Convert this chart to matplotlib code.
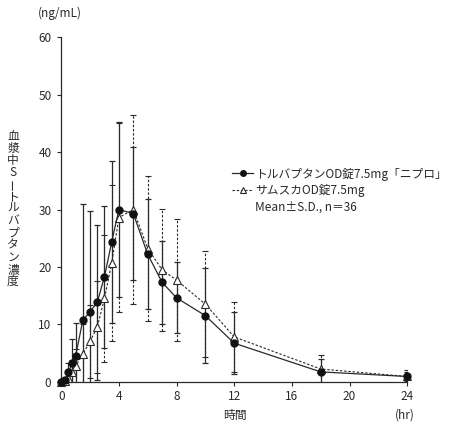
import matplotlib
matplotlib.use("Agg")
import matplotlib.pyplot as plt
from matplotlib.lines import Line2D

plt.rcParams['font.family'] = ['Noto Sans CJK JP', 'DejaVu Sans']

# ---- data ----
time_hr = [0, 0.25, 0.5, 0.75, 1, 1.5, 2, 2.5, 3, 3.5, 4, 5, 6, 7, 8, 10, 12, 18, 24]

nipro_mean = [0, 0.3, 1.6, 3.2, 4.5, 10.7, 12.2, 13.8, 18.3, 24.3, 30.0, 29.3, 22.2, 17.3, 14.6, 11.5, 6.7, 1.7, 0.9]
nipro_sd = [0, 0.5, 1.7, 4.2, 5.7, 20.3, 17.6, 13.5, 12.4, 14.1, 15.3, 11.6, 9.6, 7.3, 6.2, 8.3, 5.4, 2.2, 0.8]

samsca_mean = [0, 0.1, 0.6, 1.6, 2.7, 4.8, 7.0, 9.5, 14.5, 20.6, 28.6, 30.0, 23.2, 19.5, 17.7, 13.5, 7.8, 2.2, 0.9]
samsca_sd = [0, 0.3, 1.2, 2.2, 3.0, 5.3, 6.3, 8.0, 11.0, 13.6, 16.5, 16.4, 12.7, 10.6, 10.6, 9.2, 6.1, 2.4, 1.1]

label_nipro = "トルバプタンOD錠7.5mg「ニプロ」"
label_samsca = "サムスカOD錠7.5mg"
label_note = "Mean±S.D., n＝36"
ylabel_text = "血漿中Sートルバプタン濃度"
xlabel_text = "時間"
xunit_text = "(hr)"
yunit_text = "(ng/mL)"

xticks = [0, 4, 8, 12, 16, 20, 24]
yticks = [0, 10, 20, 30, 40, 50, 60]

# ---- figure ----
fig = plt.figure(figsize=(4.5, 4.25), dpi=100)
ax = fig.add_axes([0.136, 0.102, 0.769, 0.810])

ink = '#2a2a2a'
dash = (0, (2.2, 1.6))

# error bars (clipped at axis)
eb2 = ax.errorbar(time_hr, samsca_mean, yerr=samsca_sd, fmt='none', ecolor=ink,
                  elinewidth=0.8, capsize=2.3, capthick=0.8, zorder=2)
eb2[2][0].set_linestyle(dash)
eb1 = ax.errorbar(time_hr, nipro_mean, yerr=nipro_sd, fmt='none', ecolor=ink,
                  elinewidth=0.9, capsize=2.3, capthick=0.9, zorder=2)

# lines + markers
ax.plot(time_hr, samsca_mean, linestyle=dash, color=ink, linewidth=0.8,
        marker='^', markersize=5.5, markerfacecolor='white', markeredgecolor=ink,
        markeredgewidth=0.8, clip_on=False, zorder=3)
ax.plot(time_hr, nipro_mean, linestyle='-', color=ink, linewidth=0.9,
        marker='o', markersize=5, markerfacecolor='#111111', markeredgecolor='#111111',
        clip_on=False, zorder=4)

ax.set_xlim(0, 24)
ax.set_ylim(0, 60)
ax.set_xticks(xticks)
ax.set_yticks(yticks)
for s in ['top', 'right']:
    ax.spines[s].set_visible(False)
for s in ['left', 'bottom']:
    ax.spines[s].set_linewidth(0.9)
    ax.spines[s].set_color(ink)
ax.tick_params(direction='out', length=3, width=0.8, colors=ink, labelsize=8.5)
ax.tick_params(axis='y', pad=4)
ax.tick_params(axis='x', pad=3)

# axis texts
fig.text(60 / 450, 1 - 13 / 425, yunit_text, ha='center', va='center', fontsize=8.5, color=ink)
fig.text(235 / 450, 1 - 415 / 425, xlabel_text, ha='center', va='center', fontsize=8.5, color=ink)
fig.text(405 / 450, 1 - 415 / 425, xunit_text, ha='center', va='center', fontsize=8.5, color=ink)

# vertical (tategaki) y label
y_first, step = 136, 12.1
for i, ch in enumerate(ylabel_text):
    rot = 90 if ch == 'ー' else 0
    fig.text(13 / 450, 1 - (y_first + i * step) / 425, ch, ha='center', va='center',
             fontsize=8.5, color=ink, rotation=rot)

# legend
handles = [
    Line2D([], [], linestyle='-', color=ink, linewidth=0.9, marker='o', markersize=4,
           markerfacecolor='#111111', markeredgecolor='#111111'),
    Line2D([], [], linestyle=dash, color=ink, linewidth=0.8, marker='^', markersize=4.5,
           markerfacecolor='white', markeredgecolor=ink, markeredgewidth=0.8),
    Line2D([], [], linestyle='none'),
]
leg = ax.legend(handles, [label_nipro, label_samsca, label_note], loc='upper left',
                bbox_to_anchor=(0.495, 0.622), frameon=False, fontsize=8.5,
                handlelength=1.7, handletextpad=0.2, labelspacing=0.3, borderpad=0,
                borderaxespad=0)
for t in leg.get_texts():
    t.set_color(ink)

fig.savefig('out.png', dpi=100)
